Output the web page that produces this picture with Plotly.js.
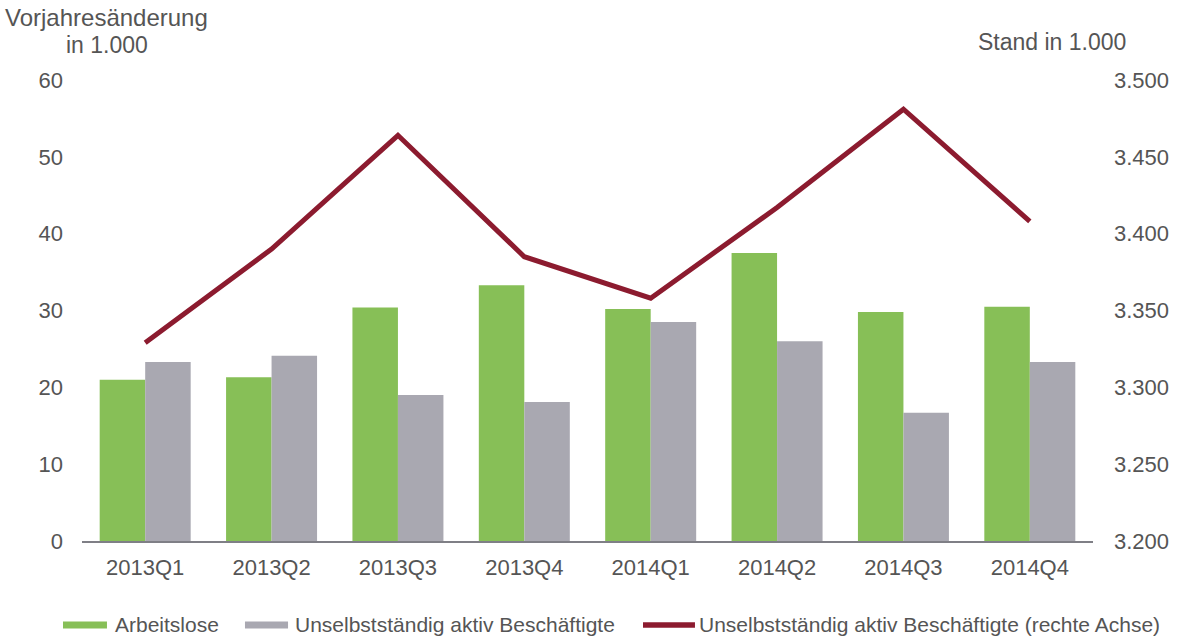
<!DOCTYPE html>
<html>
<head>
<meta charset="utf-8">
<script src="https://cdn.plot.ly/plotly-3.0.1.min.js"></script>
<style>html,body{margin:0;padding:0;background:#fff;}#chart{width:1182px;height:640px;}</style>
</head>
<body>
<div id="chart"></div>
<script>
const categories = ["2013Q1","2013Q2","2013Q3","2013Q4","2014Q1","2014Q2","2014Q3","2014Q4"];
const arbeitslose = [21.0, 21.3, 30.4, 33.3, 30.2, 37.5, 29.8, 30.5];
const beschaeftigteChange = [23.3, 24.1, 19.0, 18.1, 28.5, 26.0, 16.7, 23.3];
const beschaeftigteStand = [3329, 3390, 3464, 3385, 3358, 3417, 3481, 3408];
const leftTicks = [0, 10, 20, 30, 40, 50, 60];
const rightTicks = [3200, 3250, 3300, 3350, 3400, 3450, 3500];
const seriesNames = ["Arbeitslose", "Unselbstständig aktiv Beschäftigte", "Unselbstständig aktiv Beschäftigte (rechte Achse)"];
const seriesColors = ["#87BF57", "#A9A8B1", "#8C1B2F"];

const fontFam = "Liberation Sans, Arial, sans-serif";
const txt = "#555555";

const traces = [
  {type:"bar", name:seriesNames[0], x:categories, y:arbeitslose, marker:{color:seriesColors[0]}, showlegend:false},
  {type:"bar", name:seriesNames[1], x:categories, y:beschaeftigteChange, marker:{color:seriesColors[1]}, showlegend:false},
  {type:"scatter", mode:"lines", name:seriesNames[2], x:categories, y:beschaeftigteStand, yaxis:"y2", line:{color:seriesColors[2], width:5}, showlegend:false}
];

// custom legend (wide swatches like the original)
const legendY = -0.1822;
const legendItems = [
  {x0:-0.0188, x1:0.0247, tx:0.0307, h:0.0076},
  {x0:0.1612, x1:0.2038, tx:0.2087, h:0.0076},
  {x0:0.5549, x1:0.6063, tx:0.6083, h:0.0060}
];
const shapes = legendItems.map((it, i) => ({
  type:"rect", xref:"paper", yref:"paper", x0:it.x0, x1:it.x1, y0:legendY-it.h, y1:legendY+it.h,
  fillcolor:seriesColors[i], line:{width:0}
}));
const legendAnn = legendItems.map((it, i) => ({
  text:seriesNames[i], xref:"paper", yref:"paper", x:it.tx, y:legendY, xanchor:"left", yanchor:"middle",
  showarrow:false, font:{size:21, color:txt}
}));

const layout = {
  width:1182, height:640,
  margin:{l:82, r:89, t:80, b:99},
  paper_bgcolor:"#fff", plot_bgcolor:"#fff",
  separators:",.",
  font:{family:fontFam, size:22, color:txt},
  barmode:"group", bargap:0.28, bargroupgap:0,
  showlegend:false,
  xaxis:{type:"category", automargin:false, showgrid:false, showline:true, linecolor:"#7f7f86", linewidth:2, ticks:"", ticklabelstandoff:6, tickfont:{size:22, color:txt}},
  yaxis:{range:[0,60], automargin:false, tickvals:leftTicks, showgrid:false, zeroline:false, showline:false, ticks:"", ticklabelstandoff:18, tickfont:{size:22, color:txt}},
  yaxis2:{range:[3200,3500], automargin:false, tickvals:rightTicks, tickformat:",d", overlaying:"y", side:"right", showgrid:false, zeroline:false, showline:false, ticks:"", ticklabelstandoff:20, tickfont:{size:22, color:txt}},
  shapes:shapes,
  annotations:[
    {text:"Vorjahresänderung", xref:"paper", yref:"paper", x:-0.0781, y:1.1345, xanchor:"left", yanchor:"middle", showarrow:false, font:{size:24, color:txt}},
    {text:"in 1.000", xref:"paper", yref:"paper", x:0.0247, y:1.076, xanchor:"center", yanchor:"middle", showarrow:false, font:{size:23, color:txt}},
    {text:"Stand in 1.000", xref:"paper", yref:"paper", x:0.9594, y:1.0824, xanchor:"center", yanchor:"middle", showarrow:false, font:{size:23, color:txt}}
  ].concat(legendAnn)
};

Plotly.newPlot("chart", traces, layout, {displayModeBar:false, staticPlot:true});
</script>
</body>
</html>
